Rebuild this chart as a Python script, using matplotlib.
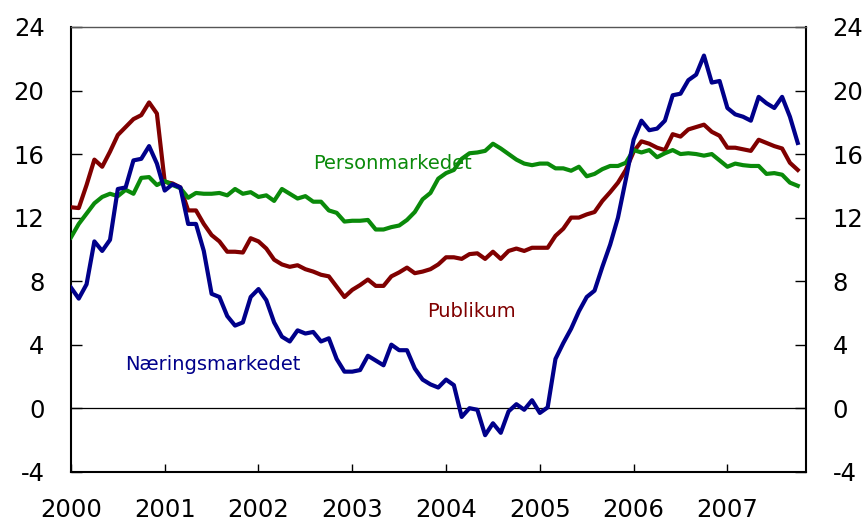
import numpy as np
import matplotlib
matplotlib.use("Agg")
import matplotlib.pyplot as plt

plt.rcParams["axes.unicode_minus"] = False

# månedlige tall jan 2000 - okt 2007 (prosent, tolvmånedersvekst)
naering = [7.6, 6.9, 7.8, 10.5, 9.9, 10.6, 13.8, 13.9, 15.6, 15.7, 16.5, 15.4,
           13.7, 14.1, 13.9, 11.6, 11.6, 9.9, 7.2, 7.0, 5.8, 5.2, 5.4, 7.0,
           7.5, 6.8, 5.4, 4.5, 4.2, 4.9, 4.7, 4.8, 4.2, 4.4, 3.1, 2.3,
           2.3, 2.4, 3.3, 3.0, 2.7, 4.0, 3.65, 3.65, 2.5, 1.8, 1.5, 1.3,
           1.8, 1.45, -0.55, 0.0, -0.1, -1.7, -0.95, -1.55, -0.2, 0.25, -0.1, 0.5,
           -0.3, 0.05, 3.1, 4.1, 5.0, 6.1, 7.0, 7.4, 8.9, 10.3, 12.0, 14.4,
           16.9, 18.1, 17.5, 17.6, 18.1, 19.7, 19.8, 20.65, 21.0, 22.2, 20.5, 20.6,
           18.9, 18.5, 18.35, 18.1, 19.6, 19.2, 18.9, 19.6, 18.35, 16.7]
publikum = [12.65, 12.6, 14.05, 15.65, 15.2, 16.15, 17.2, 17.7, 18.2, 18.45, 19.25, 18.55,
            14.25, 14.15, 13.9, 12.45, 12.45, 11.6, 10.9, 10.5, 9.85, 9.85, 9.8, 10.7,
            10.5, 10.05, 9.35, 9.05, 8.9, 9.0, 8.75, 8.6, 8.4, 8.3, 7.65, 7.0,
            7.45, 7.75, 8.1, 7.7, 7.7, 8.3, 8.55, 8.85, 8.5, 8.6, 8.75, 9.05,
            9.5, 9.5, 9.4, 9.7, 9.75, 9.4, 9.85, 9.4, 9.9, 10.05, 9.9, 10.1,
            10.1, 10.1, 10.85, 11.3, 12.0, 12.0, 12.2, 12.35, 13.05, 13.6, 14.2, 15.0,
            16.15, 16.8, 16.65, 16.4, 16.25, 17.25, 17.1, 17.55, 17.7, 17.85, 17.4, 17.15,
            16.4, 16.4, 16.3, 16.2, 16.9, 16.7, 16.5, 16.35, 15.45, 15.0]
person = [10.75, 11.6, 12.25, 12.9, 13.3, 13.5, 13.35, 13.75, 13.5, 14.5, 14.55, 14.05,
          14.3, 14.05, 13.85, 13.25, 13.55, 13.5, 13.5, 13.55, 13.4, 13.8, 13.5, 13.6,
          13.3, 13.4, 13.05, 13.8, 13.5, 13.2, 13.35, 13.0, 13.0, 12.45, 12.3, 11.75,
          11.8, 11.8, 11.85, 11.25, 11.25, 11.4, 11.5, 11.85, 12.35, 13.15, 13.55, 14.45,
          14.8, 15.0, 15.7, 16.05, 16.1, 16.2, 16.65, 16.35, 16.0, 15.65, 15.4, 15.3,
          15.4, 15.4, 15.1, 15.1, 14.95, 15.2, 14.6, 14.75, 15.05, 15.25, 15.25, 15.45,
          16.25, 16.1, 16.25, 15.8, 16.05, 16.25, 16.0, 16.05, 16.0, 15.9, 16.0, 15.6,
          15.2, 15.4, 15.3, 15.25, 15.25, 14.75, 14.8, 14.7, 14.2, 14.0]
aar = list(range(2000, 2008))
yticks = list(range(-4, 25, 4))

x = 2000 + np.arange(len(naering)) / 12.0

fig = plt.figure(figsize=(8.65, 5.21), dpi=100)
ax = fig.add_axes([0.082, 0.0946, 0.85, 0.8536])

ax.axhline(0, color="black", linewidth=0.9, zorder=1)
ax.plot(x, publikum, color="#800000", linewidth=3, zorder=3)
ax.plot(x, person, color="#0a8a0a", linewidth=3, zorder=3)
ax.plot(x, naering, color="#00008a", linewidth=3, zorder=4)

ax.set_xlim(2000, 2007.84)
ax.set_ylim(-4, 24)
ax.set_xticks(aar)
ax.set_xticklabels([str(a) for a in aar])
ax.set_yticks(yticks)

for side in ("left", "bottom", "right"):
    ax.spines[side].set_linewidth(1.5)
    ax.spines[side].set_color("black")
ax.spines["top"].set_linewidth(1.0)
ax.spines["top"].set_color("#555555")

ax.tick_params(axis="y", direction="in", length=8, width=1,
               left=True, right=True, labelleft=True, labelright=True,
               labelsize=17.5, pad=19)
ax.tick_params(axis="x", direction="in", length=6, width=1,
               labelsize=17.5, pad=19)

txt = dict(fontsize=14, family="DejaVu Sans", ha="center", va="center")
ax.text(2003.43, 15.4, "Personmarkedet", color="#0a8a0a", **txt)
ax.text(2004.27, 6.1, "Publikum", color="#800000", **txt)
ax.text(2001.51, 2.75, "Næringsmarkedet", color="#00008a", **txt)

fig.savefig("out.png", dpi=100)
plt.close()
